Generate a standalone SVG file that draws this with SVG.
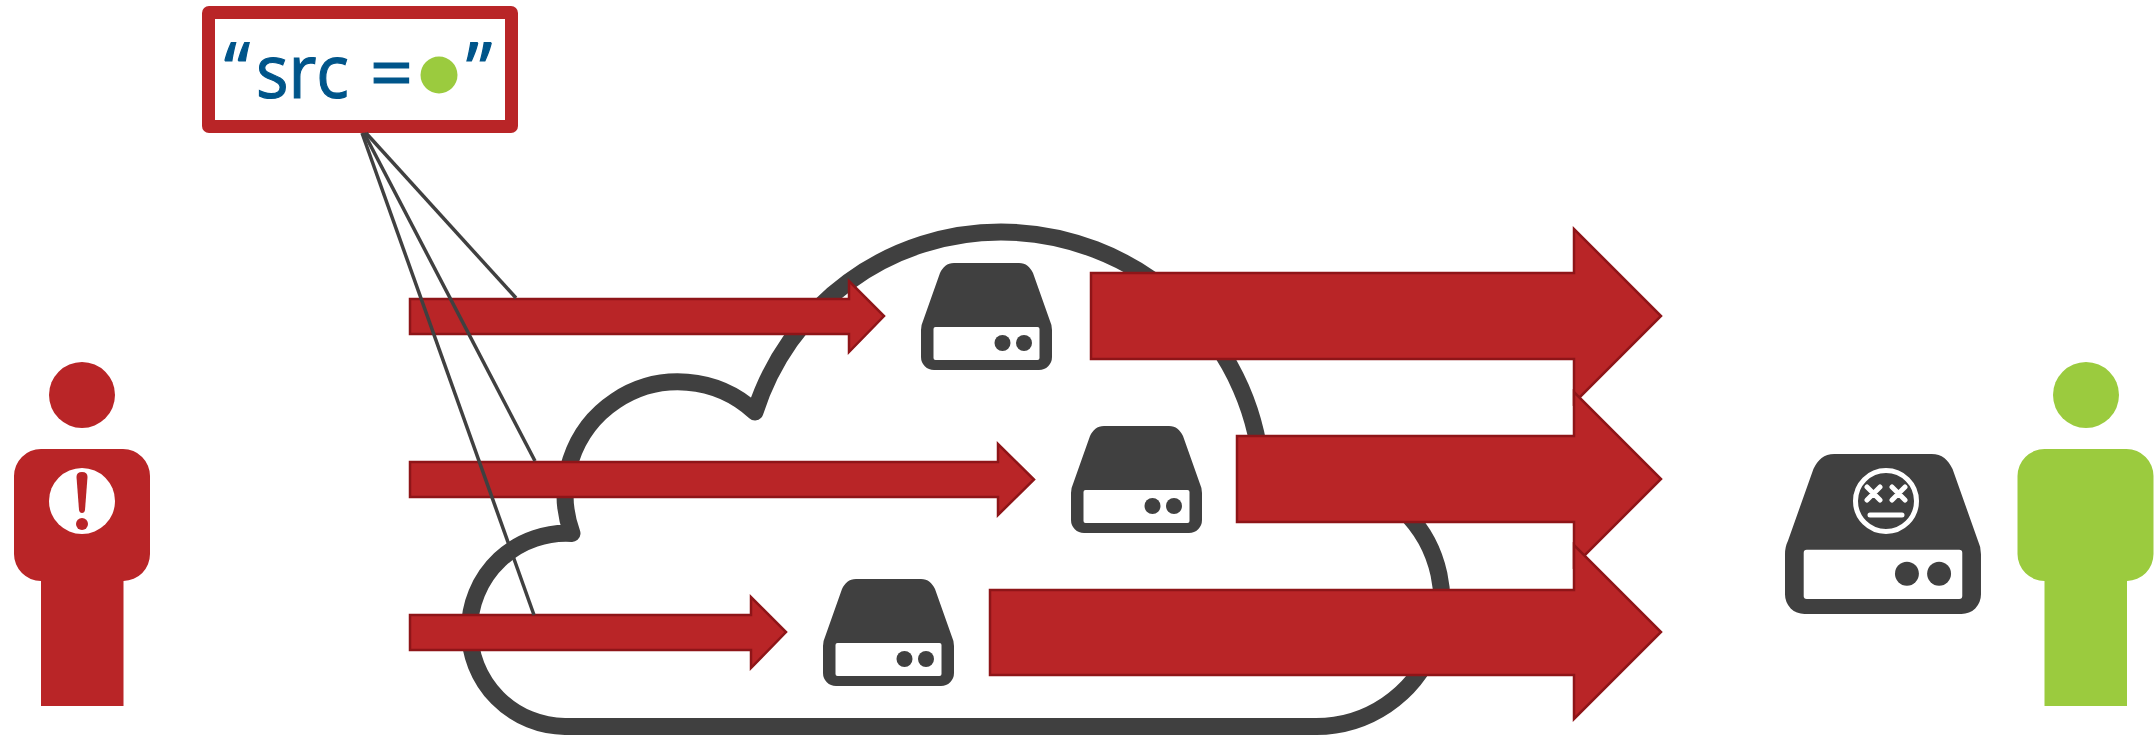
<svg xmlns="http://www.w3.org/2000/svg" width="2156" height="735" viewBox="0 0 2156 735">
<style>
.red{fill:#b92527}
.green{fill:#9bcb3e}
.dark{fill:#404040}
.white{fill:#fff}
.arrow{fill:#b92527;stroke:#8e1518;stroke-width:2.5;stroke-linejoin:miter}
.link{fill:none;stroke:#404040;stroke-width:3.5}
.t{font-family:"Open Sans","Noto Sans",sans-serif;fill:#00558a;stroke:#00558a;stroke-width:1.2;font-size:75px}
.face{fill:none;stroke:#fff;stroke-width:5;stroke-linecap:round}
</style>
<defs>
<g id="drive">
<path class="dark" d="M33 0H98C105 0 109 4 112 10L129 58Q131 62 131 67V94A13 13 0 0 1 118 107H13A13 13 0 0 1 0 94V67Q0 62 2 58L19 10C22 4 26 0 33 0Z"/>
<rect class="white" x="12.500" y="64" width="106" height="33" rx="2"/>
<circle class="dark" cx="81.500" cy="80" r="8"/>
<circle class="dark" cx="103" cy="80" r="8"/>
</g>
<path id="body" d="M41 0A27 27 0 0 0 14 27V105A27 27 0 0 0 41 132V257H123.500V132A27 27 0 0 0 150 105V27A27 27 0 0 0 123 0Z"/>
</defs>
<path id="cloud" fill="none" stroke="#404040" stroke-width="17" stroke-linejoin="round" d="M565 726.500A96.500 96.500 0 0 1 469.500 630A96.500 96.500 0 0 1 572 533.500A113 113 0 0 1 755 412A258 258 0 0 1 1001 232A262 258 0 0 1 1262 480L1403 510A125.700 125.700 0 0 1 1316 726.500Z"/>
<g id="source-box">
<rect class="red" x="202" y="6" width="316" height="127" rx="7"/>
<rect class="white" x="215" y="19" width="290" height="101"/>
<text class="t" x="224" y="96">“</text>
<text class="t" x="256" y="98" textLength="93" lengthAdjust="spacingAndGlyphs">src</text>
<text class="t" x="370" y="100">=</text>
<circle class="green" cx="439" cy="75" r="18.500"/>
<text class="t" x="466" y="96">”</text>
</g>
<g id="attacker">
<circle class="red" cx="82" cy="395" r="33"/>
<use href="#body" class="red" y="449"/>
<circle class="white" cx="82" cy="501" r="33"/>
<path class="red" d="M76.500 477Q76.500 472 82 472Q87.500 472 87.500 477L85 510Q84.500 513 82 513Q79.500 513 79 510Z"/>
<circle class="red" cx="82" cy="524" r="6"/>
</g>
<g id="victim">
<circle class="green" cx="2086" cy="395" r="33"/>
<use href="#body" class="green" x="2003.500" y="449"/>
</g>
<g id="drive-1"><use href="#drive" x="921" y="263"/></g>
<g id="drive-2"><use href="#drive" x="1071" y="426"/></g>
<g id="drive-3"><use href="#drive" x="823" y="579"/></g>
<g id="drive-dead">
<use href="#drive" transform="translate(1785 454) scale(1.496)"/>
<circle class="face" cx="1886" cy="501" r="30.500"/>
<path class="face" d="M1867 487L1880 500M1880 487L1867 500M1892 487L1905 500M1905 487L1892 500M1870 515H1902"/>
</g>
<g id="arrows">
<path id="arrow-in-1" class="arrow" d="M410 299H849V281L884 316L849 352V334H410Z"/>
<path id="arrow-out-1" class="arrow" d="M1091 273H1574V229L1661 316L1574 403V359H1091Z"/>
<path id="arrow-in-2" class="arrow" d="M410 462H998V444L1034 479.500L998 515V497H410Z"/>
<path id="arrow-out-2" class="arrow" d="M1237 436H1574V392L1661 479L1574 566V522H1237Z"/>
<path id="arrow-in-3" class="arrow" d="M410 615H751V597L786 632L751 668V650H410Z"/>
<path id="arrow-out-3" class="arrow" d="M990 590H1574V545L1661 632L1574 719V675H990Z"/>
</g>
<g id="connectors">
<path class="link" d="M366 133L516 298"/>
<path class="link" d="M364 133L535 461"/>
<path class="link" d="M362 133L534 615"/>
</g>
</svg>
